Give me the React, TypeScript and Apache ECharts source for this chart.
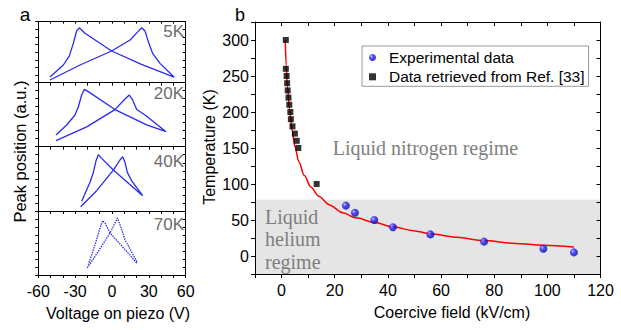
import React, { useEffect, useRef } from 'react';
import * as echarts from 'echarts';

// ---- Panel a: peak position vs voltage (normalised 0-100 per panel) ----
const loop5K: [number, number][] = [
  [-50.5, 4.4], [-26.0, 29], [-0.3, 52], [14.7, 70], [20.6, 82.5], [24.2, 90], [26.9, 84.7],
  [29.6, 67], [33.1, 48], [39.1, 31.7], [50.5, 9.3],
  [24, 30], [-0.3, 52], [-22, 81], [-26.6, 90], [-28.8, 84.7], [-31.5, 64.5], [-34.7, 44],
  [-39.6, 29], [-50.5, 9.3],
];
const loop20K: [number, number][] = [
  [-45.6, 9.4], [-20.6, 31], [2.4, 58], [10.6, 74.5], [14.1, 80.7], [16.8, 73], [20.1, 58],
  [26.9, 49.5], [44, 23.4],
  [28.2, 34], [2.4, 58], [-19.3, 86], [-22.5, 89.6], [-24.7, 80.7], [-27.4, 62.5], [-30.1, 49.5],
  [-36.9, 33.9], [-45.6, 18.2],
];
const loop40K: [number, number][] = [
  [-25.5, 6.7], [-12.5, 31.6], [1.1, 63.7], [6.5, 79.3], [8.7, 84.5], [10.6, 75.6], [12.5, 60],
  [16, 47], [25, 23.8],
  [1.1, 63.7], [-9.2, 83.4], [-11.1, 87.6], [-13, 78], [-15.2, 60], [-17.9, 44.6], [-24.7, 15],
];
const loop70K: [number, number][] = [
  [-20.1, 11], [-11.1, 37], [-1.6, 65.6], [2.4, 81], [4.3, 89], [6.5, 78.6], [10.6, 55],
  [20.1, 21.4],
  [20.1, 18.8], [11.9, 37], [-1.6, 65.6], [-5.7, 81], [-7.6, 85], [-9.8, 73], [-13.8, 47.4],
  [-19.3, 16],
];
const panelLabels = ['5K', '20K', '40K', '70K'];
const voltageTicks = [-60, -30, 0, 30, 60];

// ---- Panel b: temperature vs coercive field ----
const expField = [24.2, 27.6, 34.9, 41.9, 56, 76.2, 98.5, 110];
const expTemp = [70, 60, 50, 40, 30, 20, 10, 5];
const refField = [1.6, 1.6, 1.9, 2.1, 2.3, 2.6, 2.9, 3.3, 3.5, 4.1, 5.0, 5.7, 6.3, 13.2];
const refTemp = [300, 260, 250, 240, 230, 220, 210, 200, 190, 180, 170, 160, 150, 100];
const fitField = [1.4, 1.7, 2.2, 3.0, 4.0, 5.0, 6.5, 8.5, 11, 14, 18, 23, 28, 35, 42, 49, 56, 66, 76, 88, 98.5, 110];
const fitTemp = [300, 265, 235, 203, 174, 152, 131, 112, 96, 83, 71, 60, 53, 46.5, 40.5, 35.5, 31, 26, 21.5, 17.5, 15, 12.5];
const heliumBand = [-25, 78];

const SANS = 'Liberation Sans';
const SERIF = 'Liberation Serif';

export default function App() {
  const ref = useRef<HTMLDivElement>(null);
  useEffect(() => {
    if (!ref.current) return;
    const chart = echarts.init(ref.current, undefined, { renderer: 'svg' });
    const loops = [loop5K, loop20K, loop40K, loop70K];
    const tops = [21.7, 82.7, 146.7, 211];
    const heights = [61, 64, 64.3, 64];
    const labelY = [31.7, 93.3, 161.5, 224.7];
    const axisLine = { show: true, onZero: false, lineStyle: { color: '#000', width: 1 } };

    const grids: any[] = [];
    const xAxes: any[] = [];
    const yAxes: any[] = [];
    const series: any[] = [];

    for (let i = 0; i < 4; i++) {
      grids.push({ left: 38.3, width: 147.4, top: tops[i], height: heights[i] });
      xAxes.push({
        gridIndex: i, type: 'value', min: -60, max: 60, interval: 10, position: 'bottom',
        axisLine, splitLine: { show: false },
        axisTick: { show: true, inside: false, length: 3, lineStyle: { color: '#000' } },
        axisLabel: {
          show: i === 3, margin: 8, fontSize: 16, fontFamily: SANS, color: '#000',
          formatter: (v: number) => (voltageTicks.includes(v) ? String(v) : ''),
        },
      });
      xAxes.push({
        gridIndex: i, type: 'value', min: -60, max: 60, interval: 10, position: 'top',
        axisLine, splitLine: { show: false },
        axisTick: { show: i === 0, inside: true, length: 2, lineStyle: { color: '#000' } },
        axisLabel: { show: false },
      });
      yAxes.push({
        gridIndex: i, type: 'value', min: 0, max: 100, interval: 12.5, position: 'left',
        axisLine, splitLine: { show: false },
        axisTick: { show: true, inside: false, length: 3, lineStyle: { color: '#000' } },
        axisLabel: { show: false },
      });
      yAxes.push({
        gridIndex: i, type: 'value', min: 0, max: 100, interval: 12.5, position: 'right',
        axisLine, splitLine: { show: false },
        axisTick: { show: true, inside: true, length: 3, lineStyle: { color: '#000' } },
        axisLabel: { show: false },
      });
      series.push({
        type: 'line', xAxisIndex: i * 2, yAxisIndex: i * 2, data: loops[i],
        showSymbol: false, symbol: 'none',
        lineStyle: i === 3
          ? { color: '#3030f0', width: 1.3, type: [1.5, 1] }
          : { color: '#2b2bef', width: 1.3, type: 'solid' },
      });
    }

    // panel b
    grids.push({ left: 255, top: 22, width: 345.5, height: 252 });
    xAxes.push({
      gridIndex: 4, type: 'value', min: -10, max: 120, interval: 10, position: 'bottom', z: 10,
      axisLine, splitLine: { show: false },
      axisTick: { show: true, inside: false, length: 4, lineStyle: { color: '#000' } },
      axisLabel: {
        margin: 8, fontSize: 16, fontFamily: SANS, color: '#000',
        formatter: (v: number) => (v % 20 === 0 ? String(v) : ''),
      },
    });
    xAxes.push({
      gridIndex: 4, type: 'value', min: -10, max: 120, interval: 10, position: 'top', z: 10,
      axisLine, splitLine: { show: false },
      axisTick: { show: true, inside: true, length: 4, lineStyle: { color: '#000' } },
      axisLabel: { show: false },
    });
    yAxes.push({
      gridIndex: 4, type: 'value', min: -25, max: 325, interval: 25, position: 'left', z: 10,
      axisLine, splitLine: { show: false },
      axisTick: { show: true, inside: false, length: 4, lineStyle: { color: '#000' } },
      axisLabel: {
        margin: 6, fontSize: 16, fontFamily: SANS, color: '#000',
        formatter: (v: number) => (v % 50 === 0 && v >= 0 && v <= 300 ? String(v) : ''),
      },
    });
    yAxes.push({
      gridIndex: 4, type: 'value', min: -25, max: 325, interval: 25, position: 'right', z: 10,
      axisLine, splitLine: { show: false },
      axisTick: { show: true, inside: true, length: 4, lineStyle: { color: '#000' } },
      axisLabel: { show: false },
    });

    // helium band
    series.push({
      type: 'line', name: 'band', xAxisIndex: 8, yAxisIndex: 8, data: [], z: 1,
      markArea: {
        silent: true,
        itemStyle: { color: '#e5e5e5' },
        data: [[{ yAxis: heliumBand[0] }, { yAxis: heliumBand[1] }]],
      },
    });
    series.push({
      type: 'line', name: 'fit', xAxisIndex: 8, yAxisIndex: 8,
      data: fitField.map((f, k) => [f, fitTemp[k]]),
      showSymbol: false, symbol: 'none', smooth: 0.3, smoothMonotone: 'x',
      lineStyle: { color: '#ff0000', width: 1.5 }, z: 3,
    });
    series.push({
      type: 'scatter', name: 'Data retrieved from Ref. [33]', xAxisIndex: 8, yAxisIndex: 8,
      data: refField.map((f, k) => [f, refTemp[k]]),
      symbol: 'rect', symbolSize: 6, itemStyle: { color: '#000' }, z: 4,
    });
    const ball = new echarts.graphic.RadialGradient(0.35, 0.35, 0.7, [
      { offset: 0, color: '#b8b8ff' },
      { offset: 0.35, color: '#2a2aff' },
      { offset: 1, color: '#0000a8' },
    ]);
    series.push({
      type: 'scatter', name: 'Experimental data', xAxisIndex: 8, yAxisIndex: 8,
      data: expField.map((f, k) => [f, expTemp[k]]),
      symbol: 'circle', symbolSize: 8, itemStyle: { color: ball }, z: 5,
    });

    const txt = (text: string, x: number, y: number, size: number, color: string, opts: any = {}) => ({
      type: 'text', x, y, rotation: opts.rotation || 0, z: 10,
      style: {
        text, font: `${size}px ${opts.font || SANS}`, fill: color,
        align: opts.align || 'center', verticalAlign: 'middle',
      },
    });

    const graphics: any[] = [
      txt('a', 25, 14, 19, '#000'),
      txt('b', 240, 15, 18, '#000'),
      txt('Peak position (a.u.)', 19.5, 151.5, 16.5, '#000', { rotation: Math.PI / 2 }),
      txt('Voltage on piezo (V)', 118, 313, 16, '#000'),
      txt('Temperature (K)', 209, 147, 16, '#000', { rotation: Math.PI / 2 }),
      txt('Coercive field (kV/cm)', 452, 312.7, 16, '#000'),
      txt('Liquid nitrogen regime', 332.7, 148, 20, '#7f7f7f', { font: SERIF, align: 'left' }),
      txt('Liquid', 265, 216.7, 20, '#7f7f7f', { font: SERIF, align: 'left' }),
      txt('helium', 265, 239.3, 20, '#7f7f7f', { font: SERIF, align: 'left' }),
      txt('regime', 265, 261.7, 20, '#7f7f7f', { font: SERIF, align: 'left' }),
    ];
    panelLabels.forEach((l, i) => graphics.push(txt(l, 184, labelY[i], 17, '#6d6d6d', { align: 'right' })));

    chart.setOption({
      animation: false,
      grid: grids,
      xAxis: xAxes,
      yAxis: yAxes,
      series,
      legend: {
        data: ['Experimental data', 'Data retrieved from Ref. [33]'],
        orient: 'vertical', left: 362, top: 46,
        borderColor: '#999', borderWidth: 1, borderRadius: 0,
        padding: [3.5, 4, 1.5, 7], itemGap: 3.3, itemWidth: 7, itemHeight: 7,
        textStyle: { fontSize: 15.5, fontFamily: SANS, color: '#000', lineHeight: 15, padding: [0, 0, 0, 8] },
        selectedMode: false,
      },
      graphic: graphics,
    });
    return () => chart.dispose();
  }, []);
  return <div ref={ref} style={{ width: 621, height: 330, position: 'absolute', left: 0, top: 0 }} />;
}
